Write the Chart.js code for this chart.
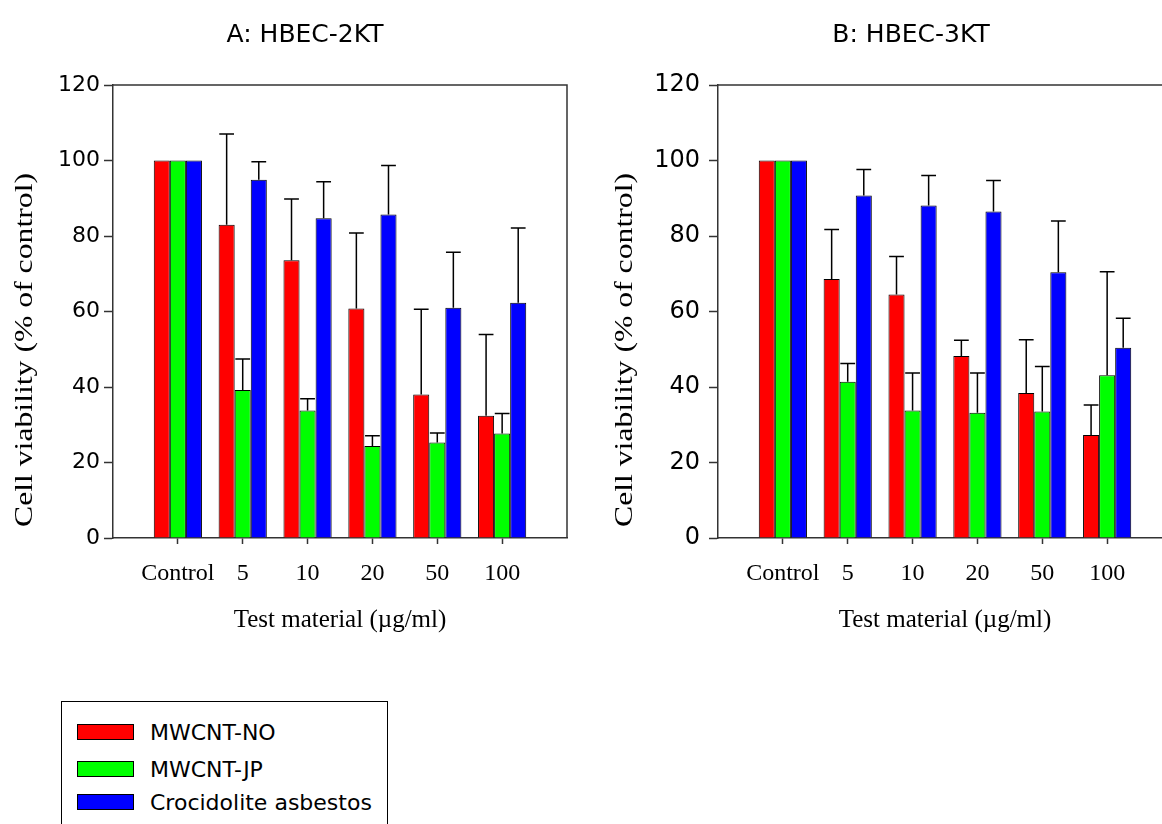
<!DOCTYPE html>
<html lang="en">
<head>
<meta charset="UTF-8">
<title>Cell viability - HBEC-2KT / HBEC-3KT</title>
<script src="https://cdn.jsdelivr.net/npm/chart.js@4.4.1/dist/chart.umd.min.js"></script>
<style>
  html, body { margin: 0; padding: 0; background: #fff; }
  body { position: relative; width: 1162px; height: 824px; overflow: hidden; }
  canvas { position: absolute; top: 0; }
  #panelA { left: 0; }
  #panelB { left: 600px; }
  .legend {
    position: absolute; left: 61px; top: 701px; width: 325px; height: 140px;
    border: 1.5px solid #000; font-family: "DejaVu Sans", sans-serif; font-size: 22px; color: #000;
  }
  .legend .row { position: absolute; left: 15px; height: 16px; display: flex; align-items: center; white-space: nowrap; }
  .legend .swatch { width: 55px; height: 14px; border: 1px solid #000; margin-right: 16px; }
</style>
</head>
<body>
<canvas id="panelA" width="610" height="660"></canvas>
<canvas id="panelB" width="636" height="660"></canvas>
<div class="legend" id="legend"></div>

<script>
// ---- data (mean and upper SD, % of control) ----
const categories = ['Control', '5', '10', '20', '50', '100'];
const seriesNames = ['MWCNT-NO', 'MWCNT-JP', 'Crocidolite asbestos'];
const seriesColors = ['#ff0000', '#00ff00', '#0000ff'];
const yTicks = [0, 20, 40, 60, 80, 100, 120];

// A: HBEC-2KT
const aNo = [100, 83.0, 73.6, 60.8, 38.0, 32.4];
const aNoSd = [0, 24.0, 16.2, 20.0, 22.6, 21.5];
const aJp = [100, 39.2, 33.8, 24.4, 25.3, 27.7];
const aJpSd = [0, 8.2, 3.1, 2.7, 2.5, 5.3];
const aAsb = [100, 94.9, 84.7, 85.7, 61.0, 62.3];
const aAsbSd = [0, 4.8, 9.7, 13.0, 14.7, 19.8];

// B: HBEC-3KT
const bNo = [100, 68.6, 64.5, 48.2, 38.4, 27.3];
const bNoSd = [0, 13.1, 10.1, 4.2, 14.1, 7.9];
const bJp = [100, 41.4, 33.8, 33.2, 33.5, 43.1];
const bJpSd = [0, 4.8, 9.9, 10.5, 11.9, 27.4];
const bAsb = [100, 90.7, 88.1, 86.5, 70.4, 50.4];
const bAsbSd = [0, 6.9, 7.9, 8.2, 13.6, 7.8];

// empty slot on each side so the groups sit one step in from the frame
const pad = (arr, fill) => [fill, ...arr, fill];

// upper error bars
const errorBars = {
  id: 'errorBars',
  afterDatasetsDraw(chart) {
    const { ctx } = chart;
    const y = chart.scales.y;
    ctx.save();
    ctx.strokeStyle = '#000';
    ctx.lineWidth = 1.5;
    chart.data.datasets.forEach((ds, i) => {
      const meta = chart.getDatasetMeta(i);
      meta.data.forEach((bar, j) => {
        const sd = ds.errors[j];
        if (!sd || ds.data[j] == null) return;
        const top = y.getPixelForValue(ds.data[j] + sd);
        const half = bar.width * 0.46;
        ctx.beginPath();
        ctx.moveTo(bar.x, bar.y);
        ctx.lineTo(bar.x, top);
        ctx.moveTo(bar.x - half, top);
        ctx.lineTo(bar.x + half, top);
        ctx.stroke();
      });
    });
    ctx.restore();
  }
};

// top and right edges of the plot frame
const frame = {
  id: 'frame',
  afterDraw(chart) {
    const { ctx, chartArea: a } = chart;
    ctx.save();
    ctx.strokeStyle = '#333';
    ctx.lineWidth = 1.5;
    ctx.beginPath();
    ctx.moveTo(a.left, a.top);
    ctx.lineTo(a.right, a.top);
    ctx.lineTo(a.right, a.bottom);
    ctx.stroke();
    ctx.restore();
  }
};

// rotated y-axis title, stretched along its length like the original
const yTitle = {
  id: 'yTitle',
  afterDraw(chart, args, opts) {
    const { ctx } = chart;
    ctx.save();
    ctx.font = opts.size + 'px "Liberation Serif", serif';
    ctx.fillStyle = '#000';
    ctx.textAlign = 'center';
    ctx.textBaseline = 'middle';
    const w = ctx.measureText(opts.text).width;
    ctx.translate(opts.x, opts.y);
    ctx.rotate(-Math.PI / 2);
    ctx.scale(opts.length / w, 1);
    ctx.fillText(opts.text, 0, 0);
    ctx.restore();
  }
};

function makePanel(id, title, means, sds, cfg) {
  const lastIdx = categories.length + 1;
  return new Chart(document.getElementById(id), {
    type: 'bar',
    data: {
      labels: pad(categories, ''),
      datasets: seriesNames.map((name, k) => ({
        label: name,
        data: pad(means[k], null),
        errors: pad(sds[k], 0),
        backgroundColor: seriesColors[k],
        borderColor: '#000',
        borderWidth: 1,
        categoryPercentage: 0.743,
        barPercentage: 1.0
      }))
    },
    options: {
      responsive: false,
      animation: false,
      devicePixelRatio: 1,
      layout: { padding: { left: cfg.padLeft, right: cfg.padRight, top: 0, bottom: 0 } },
      plugins: {
        legend: { display: false },
        tooltip: { enabled: false },
        title: {
          display: true, text: title, color: '#000',
          font: { family: 'DejaVu Sans', size: 25, weight: 'normal' },
          padding: { top: 20, bottom: 35 }
        },
        yTitle: { text: 'Cell viability (% of control)', x: 25, y: 350, size: 26, length: 354 }
      },
      scales: {
        x: {
          type: 'category',
          offset: false,
          grid: {
            offset: false,
            drawOnChartArea: false, drawTicks: true, tickLength: 6, tickWidth: 1.5,
            tickColor: (c) => (c.index === 0 || c.index === lastIdx) ? 'rgba(0,0,0,0)' : '#333'
          },
          border: { color: '#333', width: 1.5 },
          ticks: {
            color: '#000', autoSkip: false, maxRotation: 0, padding: 15,
            font: { family: 'Liberation Serif', size: 24 }
          },
          title: {
            display: true, text: 'Test material (\u00b5g/ml)', color: '#000',
            font: { family: 'Liberation Serif', size: 25 },
            padding: { top: 0, bottom: 25 }
          },
          afterFit: (s) => { s.height = 660 - 538; }
        },
        y: {
          min: 0, max: 120,
          afterBuildTicks: (s) => { s.ticks = yTicks.map(v => ({ value: v })); },
          grid: { drawOnChartArea: false, drawTicks: true, tickLength: 9, tickWidth: 1.5, tickColor: '#333' },
          border: { color: '#333', width: 1.5 },
          ticks: {
            color: '#000', padding: cfg.tickPad,
            font: { family: 'DejaVu Sans', size: cfg.tickSize }
          },
          afterFit: (s) => { s.width = cfg.axisLeft - cfg.padLeft; }
        }
      }
    },
    plugins: [errorBars, frame, yTitle]
  });
}

makePanel('panelA', 'A: HBEC-2KT', [aNo, aJp, aAsb], [aNoSd, aJpSd, aAsbSd],
  { axisLeft: 113, padLeft: 43, padRight: 43, tickSize: 22, tickPad: 4 });
makePanel('panelB', 'B: HBEC-3KT', [bNo, bJp, bAsb], [bNoSd, bJpSd, bAsbSd],
  { axisLeft: 118, padLeft: 50, padRight: 64, tickSize: 24, tickPad: 9 });

// legend box under panel A
const legend = document.getElementById('legend');
const rowTops = [22, 59, 92];
seriesNames.forEach((name, k) => {
  const row = document.createElement('div');
  row.className = 'row';
  row.style.top = rowTops[k] + 'px';
  const sw = document.createElement('span');
  sw.className = 'swatch';
  sw.style.background = seriesColors[k];
  const label = document.createElement('span');
  label.textContent = name;
  row.appendChild(sw);
  row.appendChild(label);
  legend.appendChild(row);
});
</script>
</body>
</html>
